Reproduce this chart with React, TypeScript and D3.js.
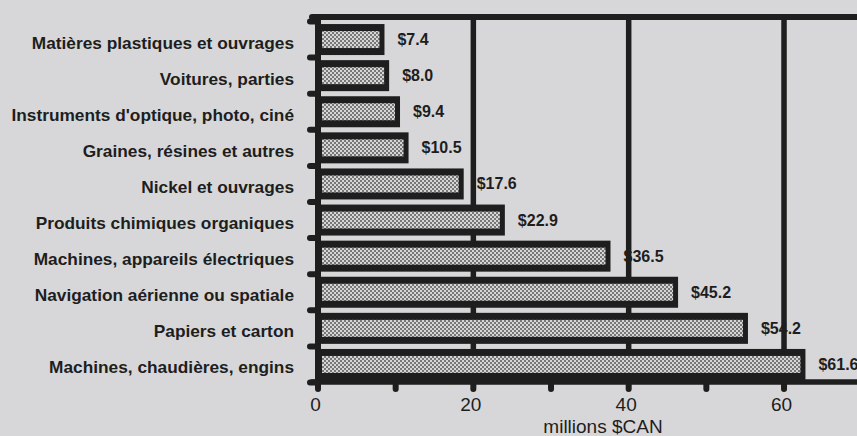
import { useEffect, useRef } from "react";
import * as d3 from "d3";

// produits, du haut vers le bas
const categories = [
  "Matières plastiques et ouvrages",
  "Voitures, parties",
  "Instruments d'optique, photo, ciné",
  "Graines, résines et autres",
  "Nickel et ouvrages",
  "Produits chimiques organiques",
  "Machines, appareils électriques",
  "Navigation aérienne ou spatiale",
  "Papiers et carton",
  "Machines, chaudières, engins",
];
const values = [7.4, 8.0, 9.4, 10.5, 17.6, 22.9, 36.5, 45.2, 54.2, 61.6];
const tickLabels = [0, 20, 40, 60];
const minorTicks = [0, 10, 20, 30, 40, 50, 60, 70];
const gridValues = [20, 40, 60];

const W = 857;
const H = 436;
const INK = "#1e1e1e";
const PAPER = "#d7d7d9";

const App = () => {
  const ref = useRef<SVGSVGElement>(null);

  useEffect(() => {
    const svg = d3.select(ref.current);
    svg.selectAll("*").remove();

    const x = d3.scaleLinear().domain([0, 80]).range([318, 318 + 80 * 7.767]);
    const y = d3
      .scaleBand<string>()
      .domain(categories)
      .range([21.5, 382.5])
      .padding(0);
    const bw = y.bandwidth();

    // trame pointillée des barres
    const pat = svg
      .append("defs")
      .append("pattern")
      .attr("id", "dots")
      .attr("patternUnits", "userSpaceOnUse")
      .attr("width", 4)
      .attr("height", 4);
    pat.append("rect").attr("width", 4).attr("height", 4).attr("fill", "#d6d6d6");
    pat.append("circle").attr("cx", 1).attr("cy", 1).attr("r", 0.9).attr("fill", "#4a4a4a");
    pat.append("circle").attr("cx", 3).attr("cy", 3).attr("r", 0.9).attr("fill", "#4a4a4a");

    svg.append("rect").attr("width", W).attr("height", H).attr("fill", PAPER);

    const font = "'Liberation Sans', Arial, sans-serif";

    // libellés des catégories
    svg
      .append("g")
      .selectAll("text")
      .data(categories)
      .enter()
      .append("text")
      .attr("x", 294)
      .attr("y", (d) => y(d)! + bw / 2 + 9)
      .attr("text-anchor", "end")
      .attr("font-family", font)
      .attr("font-weight", "bold")
      .attr("font-size", 17.3)
      .attr("fill", INK)
      .text((d) => d);

    // valeurs
    svg
      .append("g")
      .selectAll("text")
      .data(values)
      .enter()
      .append("text")
      .attr("x", (d) => x(d) + 22)
      .attr("y", (d, i) => y(categories[i])! + bw / 2 + 5.5)
      .attr("font-family", font)
      .attr("font-weight", "bold")
      .attr("font-size", 16)
      .attr("fill", INK)
      .text((d) => "$" + d.toFixed(1));

    // grille verticale (derrière les barres, devant les valeurs)
    svg
      .append("g")
      .selectAll("line")
      .data(gridValues)
      .enter()
      .append("line")
      .attr("x1", (d) => x(d))
      .attr("x2", (d) => x(d))
      .attr("y1", 17)
      .attr("y2", 382)
      .attr("stroke", INK)
      .attr("stroke-width", 5.5);

    // barres : cadre noir épais + trame
    const bars = svg.append("g");
    bars
      .selectAll("rect.outer")
      .data(values)
      .enter()
      .append("rect")
      .attr("class", "outer")
      .attr("x", x(0) - 2)
      .attr("y", (d, i) => y(categories[i])! + bw / 2 - 15.5)
      .attr("width", (d) => x(d) - x(0) + 11)
      .attr("height", 31)
      .attr("fill", INK);
    bars
      .selectAll("rect.inner")
      .data(values)
      .enter()
      .append("rect")
      .attr("class", "inner")
      .attr("x", x(0) + 4)
      .attr("y", (d, i) => y(categories[i])! + bw / 2 - 8.5)
      .attr("width", (d) => x(d) - x(0))
      .attr("height", 17)
      .attr("fill", "url(#dots)");

    // cadre : ligne du haut, axe vertical, axe horizontal
    svg
      .append("line")
      .attr("x1", 312)
      .attr("x2", W + 10)
      .attr("y1", 17)
      .attr("y2", 17)
      .attr("stroke", INK)
      .attr("stroke-width", 6)
      .attr("stroke-linecap", "round");
    svg
      .append("line")
      .attr("x1", x(0))
      .attr("x2", x(0))
      .attr("y1", 17)
      .attr("y2", 382)
      .attr("stroke", INK)
      .attr("stroke-width", 6);
    svg
      .append("line")
      .attr("x1", 312)
      .attr("x2", W + 10)
      .attr("y1", 382)
      .attr("y2", 382)
      .attr("stroke", INK)
      .attr("stroke-width", 5.5)
      .attr("stroke-linecap", "round");

    // petites graduations
    svg
      .append("g")
      .selectAll("line")
      .data(minorTicks)
      .enter()
      .append("line")
      .attr("x1", (d) => x(d))
      .attr("x2", (d) => x(d))
      .attr("y1", 382)
      .attr("y2", 389)
      .attr("stroke", INK)
      .attr("stroke-width", 6)
      .attr("stroke-linecap", "round");

    const yTicks = d3.range(categories.length + 1).map((i) => 21.5 + i * bw);
    svg
      .append("g")
      .selectAll("line")
      .data(yTicks)
      .enter()
      .append("line")
      .attr("x1", 310)
      .attr("x2", x(0))
      .attr("y1", (d) => d)
      .attr("y2", (d) => d)
      .attr("stroke", INK)
      .attr("stroke-width", 6)
      .attr("stroke-linecap", "round");

    // étiquettes de l'axe x
    const xAxis = d3
      .axisBottom(x)
      .tickValues(tickLabels)
      .tickSize(0)
      .tickPadding(0)
      .tickFormat((d) => String(d));
    svg
      .append("g")
      .attr("transform", "translate(-3,397)")
      .call(xAxis)
      .call((g) => g.select(".domain").remove())
      .call((g) =>
        g
          .selectAll("text")
          .attr("font-family", font)
          .attr("font-size", 19)
          .attr("fill", INK)
      );

    svg
      .append("text")
      .attr("x", 603)
      .attr("y", 433)
      .attr("text-anchor", "middle")
      .attr("font-family", font)
      .attr("font-size", 19)
      .attr("fill", INK)
      .text("millions $CAN");
  }, []);

  return (
    <svg
      ref={ref}
      width={W}
      height={H}
      style={{ position: "absolute", left: 0, top: 0, display: "block" }}
    />
  );
};

export default App;
